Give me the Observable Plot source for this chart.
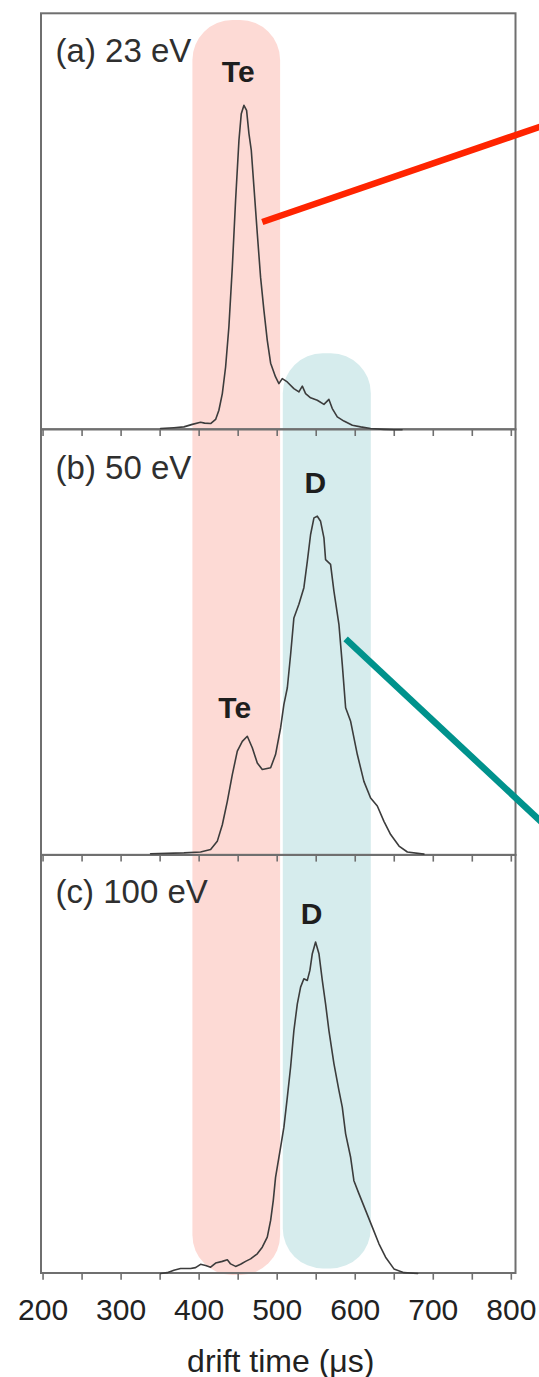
<!DOCTYPE html>
<html>
<head>
<meta charset="utf-8">
<script src="https://cdn.jsdelivr.net/npm/d3@7"></script>
<script src="https://cdn.jsdelivr.net/npm/@observablehq/plot@0.6"></script>
<style>
  html, body { margin: 0; padding: 0; background: #fff; }
  svg { display: block; }
</style>
</head>
<body>
<div id="chart"></div>
<script>
// ---------- data ----------
const tickLabels = [200, 300, 400, 500, 600, 700, 800];
const tickMarks = [200, 250, 300, 350, 400, 450, 500, 550, 600, 650, 700, 750, 800];

const panelNames = ["(a) 23 eV", "(b) 50 eV", "(c) 100 eV"];
const panelKeys = ["a", "b", "c"];

// drift time (µs), normalized signal (fraction of panel height)
const spectrumA = [
  [350.6,0.003],[367.6,0.005],[380.5,0.007],[391.2,0.013],[401.8,0.018],[407,0.016],
  [414.7,0.015],[421.1,0.025],[425.3,0.047],[429.7,0.087],[433.9,0.151],[438.1,0.247],
  [442.5,0.391],[446.7,0.552],[451,0.696],[454,0.760],[457.4,0.780],[460.8,0.768],
  [463.8,0.712],[466.8,0.672],[470.2,0.584],[474.5,0.472],[478.7,0.367],[483,0.287],
  [487.3,0.215],[491.6,0.160],[497.9,0.127],[502.2,0.111],[506.5,0.123],[512.9,0.115],
  [521.4,0.099],[527.8,0.091],[532.2,0.105],[536.4,0.087],[542.8,0.077],[551.4,0.071],
  [559.9,0.061],[566.3,0.073],[570.6,0.051],[577,0.031],[585.5,0.021],[596.3,0.011],
  [606.9,0.007],[619.7,0.003],[636.8,0.001],[649.6,0],[660,0]
];
const spectrumB = [
  [337.8,0.004],[380.5,0.006],[401.8,0.008],[414.7,0.014],[423.2,0.033],[429.7,0.072],
  [436.1,0.127],[442.5,0.190],[448.9,0.245],[455.3,0.268],[461.7,0.280],[468.1,0.253],
  [474.5,0.217],[480.9,0.202],[491.6,0.206],[497.9,0.237],[504.4,0.300],[508.6,0.355],
  [513,0.394],[517.2,0.472],[521.4,0.558],[527.8,0.590],[534.2,0.629],[538.6,0.691],
  [542.8,0.754],[547.1,0.793],[551.4,0.797],[555.6,0.785],[559.9,0.746],[562,0.695],
  [568.4,0.684],[572.7,0.621],[579.1,0.543],[583.4,0.449],[587.7,0.347],[594.1,0.315],
  [602.7,0.237],[611.1,0.174],[619.7,0.135],[628.3,0.116],[636.8,0.080],[645.4,0.049],
  [656.1,0.022],[666.8,0.008],[688,0.003]
];
const spectrumC = [
  [350.6,0],[359.2,0.002],[367.6,0.008],[376.2,0.012],[389,0.012],[395.4,0.014],
  [401.8,0.022],[408.3,0.019],[414.7,0.015],[421.1,0.025],[429.7,0.029],[436.1,0.033],
  [440.3,0.023],[446.7,0.017],[453.1,0.022],[459.5,0.029],[465.9,0.035],[474.5,0.047],
  [480.9,0.063],[487.3,0.087],[491.6,0.127],[495,0.175],[497.9,0.230],[504.4,0.302],
  [508.6,0.350],[513,0.422],[517.2,0.494],[521.4,0.581],[525.8,0.645],[530,0.685],
  [534.2,0.705],[538.6,0.701],[541.9,0.725],[545,0.765],[549.2,0.793],[553.5,0.765],
  [557.8,0.701],[562,0.645],[566.3,0.581],[572.7,0.502],[579.1,0.438],[583.4,0.398],
  [587.7,0.334],[594.1,0.278],[598.3,0.222],[604.7,0.191],[613.3,0.151],[621.9,0.111],
  [630.4,0.071],[638.9,0.039],[649.6,0.011],[662.4,0.002],[680,0]
];

// species windows (drift time range, panel extent)
const bandSpecies = ["Te", "D"];
const bandStart = [392, 507.8];
const bandEnd = [504.4, 620.6];
const bandFrom = [["c", -0.005], ["c", 0.011]];
const bandTo = [["a", 0.984], ["a", 0.183]];
const bandColors = ["#fddad5", "#d6eced"];

// peak labels: panel, text, drift time, signal
const peakLabels = [
  ["a", "Te", 450, 0.835],
  ["b", "D", 549, 0.851],
  ["b", "Te", 445.6, 0.324],
  ["c", "D", 544, 0.837]
];

// annotation pointers: panel, start (t, signal), end (t, signal)
const pointers = [
  ["a", 480.9, 0.4995, 850, 0.737, "#ff2400"],
  ["b", 587.7, 0.509, 850, 0.0588, "#00928c"]
];

// ---------- layout ----------
// stacked panels: base and relative height of each panel on one shared y scale
const panelBase = {c: 0, b: 1, a: 2.018};
const panelSpan = {c: 1, b: 1.018, a: 0.995};
const yTop = 3.013;
const Y = (k, v) => panelBase[k] + v * panelSpan[k];

const W = 539, H = 1377;
const tickLen = 0.016;

const spectra = {a: spectrumA, b: spectrumB, c: spectrumC};
const lineRows = panelKeys.flatMap(k => spectra[k].map(([t, v]) => ({panel: k, t, y: Y(k, v)})));
const panelRows = panelKeys.map((k, i) => ({panel: k, name: panelNames[i], y1: Y(k, 0), y2: Y(k, 1), ly: Y(k, 0.885)}));
const tickRows = panelKeys.flatMap(k => tickMarks.map(t => ({t, y1: Y(k, 0), y2: Y(k, 0) - tickLen})));
const bandRows = bandSpecies.map((s, i) => ({
  s, t1: bandStart[i], t2: bandEnd[i],
  y1: Y(bandFrom[i][0], bandFrom[i][1]),
  y2: Y(bandTo[i][0], bandTo[i][1]),
  fill: bandColors[i]
}));
const peakRows = peakLabels.map(([k, text, t, v]) => ({text, t, y: Y(k, v)}));
const pointerRows = pointers.map(([k, t1, v1, t2, v2, c]) => ({t1, y1: Y(k, v1), t2, y2: Y(k, v2), c}));

const xDomain = [198, 806];
const frameStroke = "#6f6f6f";

const chart = Plot.plot({
  width: W,
  height: H,
  marginLeft: 41,
  marginRight: 23.5,
  marginTop: 13.3,
  marginBottom: 104,
  style: {fontFamily: "'Liberation Sans', Arial, Helvetica, sans-serif", background: "#fff"},
  x: {domain: xDomain},
  y: {domain: [0, yTop], axis: null},
  marks: [
    Plot.rect(bandRows, {x1: "t1", x2: "t2", y1: "y1", y2: "y2", fill: d => d.fill, rx: 40}),
    Plot.rect(panelRows, {x1: () => xDomain[0], x2: () => xDomain[1], y1: "y1", y2: "y2", fill: "none", stroke: frameStroke, strokeWidth: 2}),
    Plot.ruleX(tickRows, {x: "t", y1: "y1", y2: "y2", stroke: frameStroke, strokeWidth: 1.6}),
    Plot.axisX({ticks: tickLabels, tickSize: 0, tickPadding: 25, fontSize: 30, label: null, color: "#222", tickFormat: d => String(d)}),
    Plot.line(lineRows, {x: "t", y: "y", z: "panel", stroke: "#3c3c3c", strokeWidth: 1.6, strokeLinejoin: "round"}),
    Plot.text(panelRows, {x: () => 216, y: "ly", text: "name", textAnchor: "start", lineAnchor: "bottom", fontSize: 33, fill: "#2f2f2f"}),
    Plot.text(peakRows, {x: "t", y: "y", text: "text", textAnchor: "middle", lineAnchor: "bottom", fontSize: 30, fontWeight: "bold", fill: "#1e1e1e"}),
    Plot.link(pointerRows, {x1: "t1", y1: "y1", x2: "t2", y2: "y2", stroke: d => d.c, strokeWidth: 6.5, strokeLinecap: "butt"}),
    Plot.text(["drift time (\u03bcs)"], {text: d => d, frameAnchor: "bottom", dy: 98, dx: 2, lineAnchor: "bottom", fontSize: 32, fill: "#222"})
  ]
});
document.getElementById("chart").appendChild(chart);
</script>
</body>
</html>
